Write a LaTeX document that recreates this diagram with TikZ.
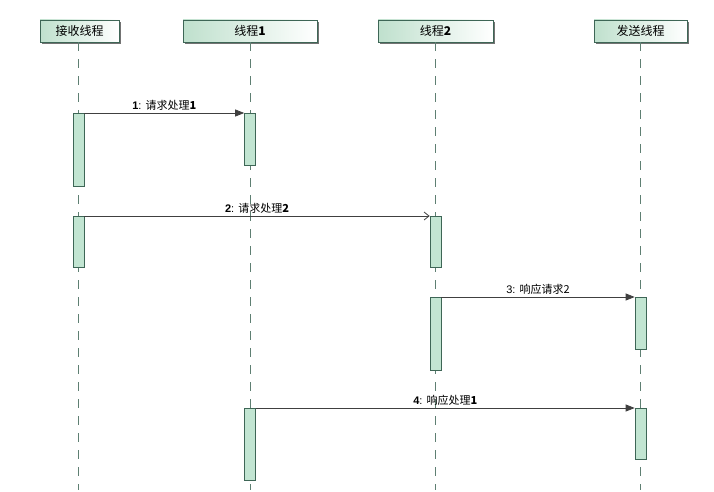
\documentclass[tikz,border=0pt]{standalone}
\usepackage{fontspec}
\setmainfont{Liberation Sans}
\newfontfamily\cjk{Noto Sans CJK SC}
\usetikzlibrary{arrows.meta,shadows}
\definecolor{lifec}{HTML}{5E7F72}
\definecolor{actfill}{HTML}{C2E5D2}
\definecolor{actdraw}{HTML}{3E6656}
\definecolor{hdrfill}{HTML}{BFE0CD}
\tikzset{
  hdr/.style={draw=actdraw, line width=0.8pt, left color=hdrfill, right color=white,
    minimum height=22pt, inner sep=0pt, font=\fontsize{12}{12}\selectfont,
    drop shadow={shadow xshift=2pt, shadow yshift=-2pt, fill=black!55, opacity=1}},
  life/.style={draw=lifec, line width=0.9pt, dash pattern=on 9pt off 8pt},
  act/.style={draw=actdraw, line width=0.7pt, fill=actfill, minimum width=11pt, inner sep=0pt, anchor=north},
  msg/.style={draw=black!75, line width=0.8pt},
  filled/.style={-{Triangle[length=9pt,width=7pt]}},
  open/.style={-{Straight Barb[length=5pt,width=8pt]}},
  lbl/.style={font=\fontsize{11}{11}\selectfont, above=1pt, inner sep=1pt}
}
\begin{document}
\begin{tikzpicture}[x=1pt,y=-1pt]
\useasboundingbox (0,0) rectangle (714,492);
% headers
\node[hdr, minimum width=79pt] (h1) at (79.5,31) {\cjk 接收线程};
\node[hdr, minimum width=134pt] (h2) at (250,31) {\cjk 线程\textbf{1}};
\node[hdr, minimum width=115pt] (h3) at (435.5,31) {\cjk 线程\textbf{2}};
\node[hdr, minimum width=93pt] (h4) at (640.5,31) {\cjk 发送线程};
% lifeline ends
\coordinate (e1) at (78.5,490);
\coordinate (e2) at (250,490);
\coordinate (e3) at (435.5,490);
\coordinate (e4) at (640.5,490);
\draw[life] (h1.south -| e1) -- (e1);
\draw[life] (h2.south -| e2) -- (e2);
\draw[life] (h3.south -| e3) -- (e3);
\draw[life] (h4.south -| e4) -- (e4);
% activations
\node[act, minimum height=73pt] (a1) at (78.5,113) {};
\node[act, minimum height=52pt] (b1) at (250,113) {};
\node[act, minimum height=51pt] (a2) at (78.5,216) {};
\node[act, minimum height=51pt] (c1) at (435.5,216) {};
\node[act, minimum height=73pt] (c2) at (435.5,297) {};
\node[act, minimum height=52pt] (d1) at (640.5,297) {};
\node[act, minimum height=72pt] (b2) at (250,408) {};
\node[act, minimum height=51pt] (d2) at (640.5,408) {};
% messages
\draw[msg, filled] (a1.north east) -- node[lbl] {\textbf{1}: \cjk 请求处理\textbf{1}} (b1.north west);
\draw[msg, open] (a2.north east) -- node[lbl] {\textbf{2}: \cjk 请求处理\textbf{2}} (c1.north west);
\draw[msg, filled] (c2.north east) -- node[lbl] {3: \cjk 响应请求2} (d1.north west);
\draw[msg, filled] (b2.north east) -- node[lbl] {\textbf{4}: \cjk 响应处理\textbf{1}} (d2.north west);
\end{tikzpicture}
\end{document}
